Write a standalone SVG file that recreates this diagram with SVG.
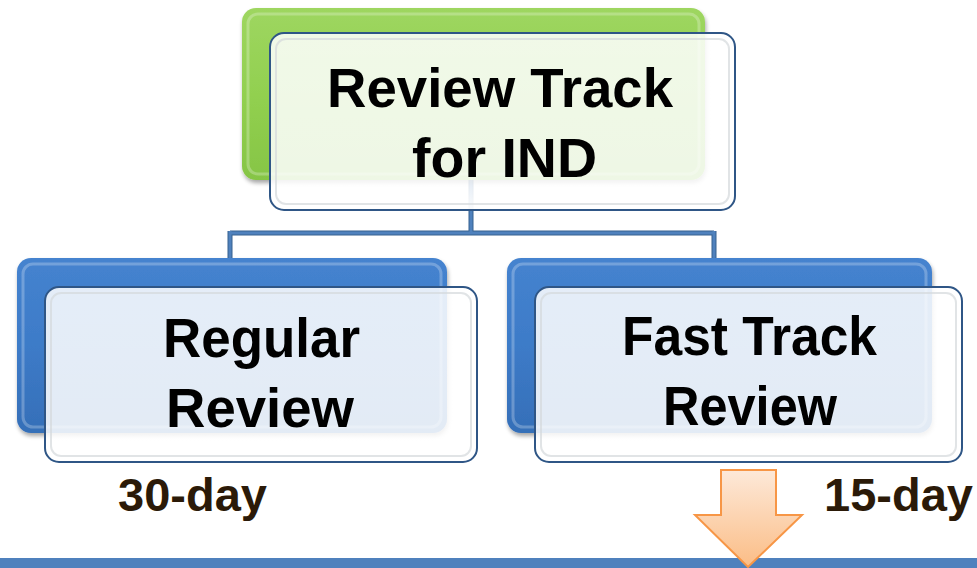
<svg xmlns="http://www.w3.org/2000/svg" width="977" height="568" viewBox="0 0 977 568">
<defs>
<linearGradient id="gGreen" x1="0" y1="0" x2="0" y2="1">
<stop offset="0" stop-color="#9ed660"/><stop offset="0.5" stop-color="#92d050"/><stop offset="1" stop-color="#86c545"/>
</linearGradient>
<linearGradient id="gBlue" x1="0" y1="0" x2="0" y2="1">
<stop offset="0" stop-color="#4583cf"/><stop offset="0.5" stop-color="#3d7bc8"/><stop offset="1" stop-color="#356fb8"/>
</linearGradient>
<linearGradient id="gArrow" x1="0" y1="0" x2="0" y2="1">
<stop offset="0" stop-color="#fde9d9"/><stop offset="1" stop-color="#fbbd86"/>
</linearGradient>
<linearGradient id="gFront" x1="0" y1="0" x2="0" y2="1">
<stop offset="0" stop-color="#ffffff" stop-opacity="0.86"/><stop offset="0.85" stop-color="#ffffff" stop-opacity="0.86"/><stop offset="1" stop-color="#ffffff" stop-opacity="0.97"/>
</linearGradient>
<filter id="sh" x="-5%" y="-5%" width="110%" height="115%">
<feGaussianBlur in="SourceAlpha" stdDeviation="2"/><feOffset dx="1" dy="3"/>
<feComponentTransfer><feFuncA type="linear" slope="0.35"/></feComponentTransfer>
<feMerge><feMergeNode/><feMergeNode in="SourceGraphic"/></feMerge>
</filter>
</defs>
<style>
.lbl{font-family:"Liberation Sans",Arial,sans-serif;font-weight:bold;font-size:56px;fill:#000}
.day{font-family:"Liberation Sans",Arial,sans-serif;font-weight:bold;font-size:47px;fill:#2b1a08}
.front{fill:url(#gFront);stroke:#2f5686;stroke-width:2}
.inner{fill:none;stroke:#d4d8dc;stroke-width:2;opacity:0.7}
.bevel{fill:none;stroke:#ffffff;stroke-width:3;opacity:0.25}
.conOut{fill:none;stroke:#37608f;stroke-width:5}
.conIn{fill:none;stroke:#4f81bd;stroke-width:3}
</style>

<g id="connectors">
<path class="conOut" d="M471,180 V233 M230,233 H714 M230,231 V260 M714,231 V260"/>
<path class="conIn" d="M471,180 V233 M230,233 H714 M230,231 V260 M714,231 V260"/>
</g>

<g id="node-review-track">
<rect x="242" y="8" width="463" height="172" rx="14" fill="url(#gGreen)" filter="url(#sh)"/>
<rect x="248" y="14" width="451" height="160" rx="10" class="bevel"/>
<rect x="270" y="33" width="465" height="177" rx="14" class="front"/>
<rect x="276" y="39" width="453" height="165" rx="10" class="inner"/>
<text class="lbl" x="327" y="107" textLength="346" lengthAdjust="spacingAndGlyphs">Review Track</text>
<text class="lbl" x="412" y="177" textLength="185" lengthAdjust="spacingAndGlyphs">for IND</text>
</g>

<g id="node-regular-review">
<rect x="17" y="258" width="430" height="175" rx="14" fill="url(#gBlue)" filter="url(#sh)"/>
<rect x="23" y="264" width="418" height="163" rx="10" class="bevel"/>
<rect x="45" y="287" width="432" height="175" rx="14" class="front"/>
<rect x="51" y="293" width="420" height="163" rx="10" class="inner"/>
<text class="lbl" x="163" y="357" textLength="197" lengthAdjust="spacingAndGlyphs">Regular</text>
<text class="lbl" x="166" y="427" textLength="188" lengthAdjust="spacingAndGlyphs">Review</text>
</g>

<g id="node-fast-track-review">
<rect x="507" y="258" width="425" height="175" rx="14" fill="url(#gBlue)" filter="url(#sh)"/>
<rect x="513" y="264" width="413" height="163" rx="10" class="bevel"/>
<rect x="535" y="287" width="427" height="175" rx="14" class="front"/>
<rect x="541" y="293" width="415" height="163" rx="10" class="inner"/>
<text class="lbl" x="622" y="355" textLength="255" lengthAdjust="spacingAndGlyphs">Fast Track</text>
<text class="lbl" x="663" y="425" textLength="174" lengthAdjust="spacingAndGlyphs">Review</text>
</g>

<g id="label-30day">
<text class="day" x="118" y="511">30-day</text>
</g>
<g id="label-15day">
<text class="day" x="824" y="511">15-day</text>
</g>

<rect id="bottom-bar" x="0" y="558" width="977" height="10" fill="#4f81bd"/>

<g id="arrow">
<path d="M721,470 H776 V515 H802 L748,567 L695,515 H721 Z" fill="url(#gArrow)" stroke="#f79646" stroke-width="2" stroke-linejoin="miter"/>
</g>
</svg>
